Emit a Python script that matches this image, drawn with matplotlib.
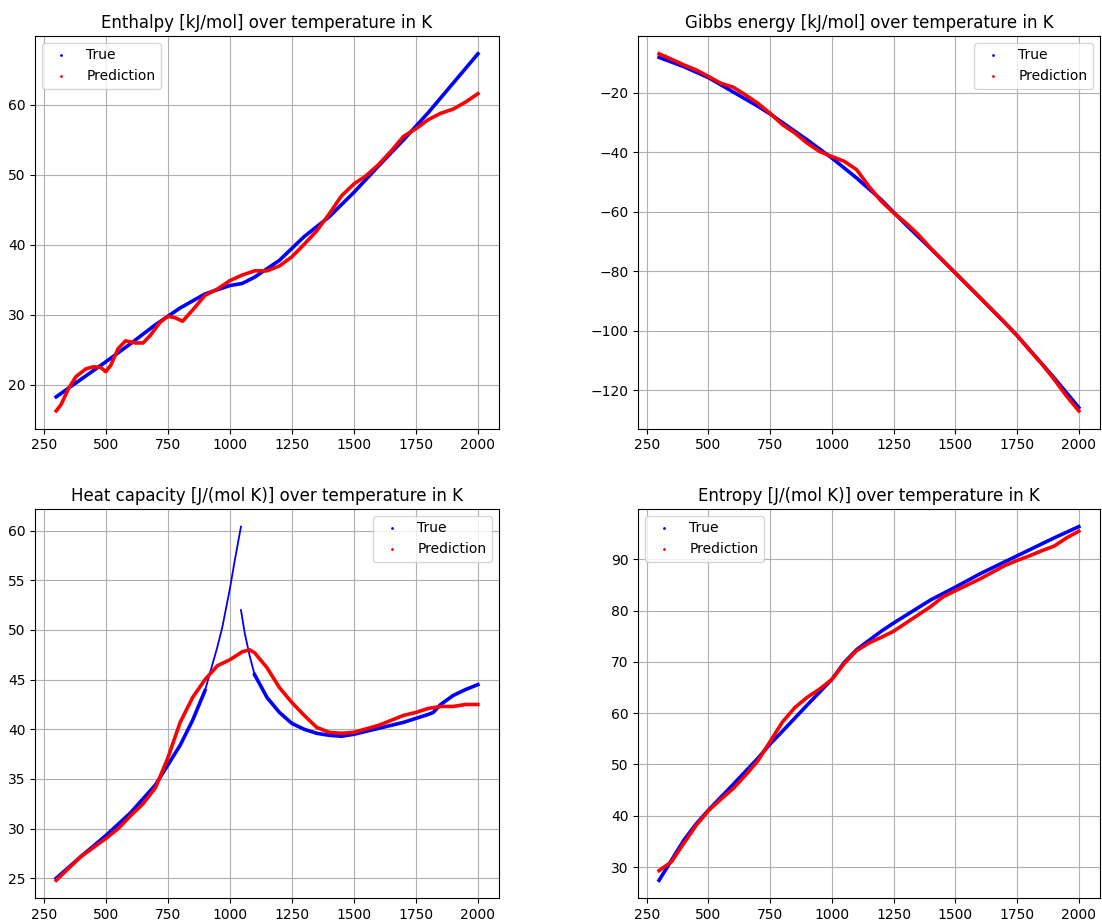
import numpy as np
import matplotlib
matplotlib.use("Agg")
import matplotlib.pyplot as plt
from matplotlib.lines import Line2D

# ── Enthalpy [kJ/mol] ────────────────────────────────────────────────────
h_true_T = [300, 400, 500, 600, 700, 800, 900, 1000, 1050, 1100, 1200, 1250,
            1300, 1400, 1500, 1600, 1700, 1800, 1900, 2000]
h_true = [18.3, 20.8, 23.3, 25.9, 28.6, 31.0, 33.0, 34.2, 34.5, 35.4, 37.8, 39.5,
          41.2, 44.0, 47.5, 51.3, 55.0, 58.9, 63.1, 67.3]
h_pred_T = [300, 320, 350, 380, 420, 450, 480, 500, 520, 550, 580, 620, 650, 680,
            720, 750, 780, 810, 850, 900, 950, 1000, 1050, 1100, 1150, 1200, 1250,
            1300, 1350, 1400, 1450, 1500, 1550, 1600, 1650, 1700, 1750, 1800, 1850,
            1900, 1950, 2000]
h_pred = [16.3, 17.2, 19.5, 21.2, 22.3, 22.6, 22.5, 21.9, 22.8, 25.2, 26.3, 26.0,
          26.0, 27.1, 29.0, 29.8, 29.6, 29.1, 30.7, 32.8, 33.7, 34.9, 35.7, 36.3,
          36.3, 37.0, 38.3, 40.1, 42.0, 44.4, 47.0, 48.7, 49.9, 51.5, 53.4, 55.5,
          56.6, 57.9, 58.8, 59.4, 60.4, 61.6]

# ── Gibbs energy [kJ/mol] ────────────────────────────────────────────────
g_true_T = [300, 400, 500, 600, 700, 750, 800, 900, 1000, 1100, 1200, 1250, 1300,
            1400, 1500, 1600, 1700, 1750, 1800, 1900, 2000]
g_true = [-8.2, -11.3, -15.0, -19.8, -24.6, -27.2, -30.1, -35.9, -42.0, -48.7,
          -56.0, -60.2, -64.4, -72.4, -80.6, -88.9, -97.3, -101.6, -106.3, -115.8,
          -125.8]
g_pred_T = [300, 350, 400, 450, 500, 550, 600, 650, 700, 750, 800, 850, 900, 950,
            1000, 1050, 1100, 1150, 1200, 1250, 1300, 1350, 1400, 1500, 1600, 1700,
            1750, 1800, 1850, 1900, 1950, 2000]
g_pred = [-7.0, -8.8, -10.7, -12.4, -14.6, -16.9, -18.2, -20.8, -23.6, -27.0,
          -30.8, -33.6, -37.0, -39.8, -41.5, -43.1, -45.9, -51.5, -56.5, -60.4,
          -63.8, -67.7, -72.3, -80.6, -88.9, -97.2, -101.6, -106.5, -111.1, -116.3,
          -121.9, -126.9]

# ── Heat capacity [J/(mol K)] ────────────────────────────────────────────
cp_true_lo_T = [300, 400, 500, 600, 700, 750, 800, 850, 900, 950, 970, 1000, 1020, 1045]
cp_true_lo = [25.0, 27.2, 29.3, 31.6, 34.4, 36.4, 38.4, 40.9, 43.9, 48.3, 50.3, 54.1,
              57.0, 60.4]
cp_true_hi_T = [1045, 1060, 1080, 1100, 1150, 1200, 1250, 1300, 1350, 1400, 1450,
                1500, 1600, 1700, 1750, 1800, 1820, 1850, 1900, 1950, 2000]
cp_true_hi = [52.0, 49.7, 47.4, 45.5, 43.2, 41.7, 40.6, 40.0, 39.6, 39.4, 39.3,
              39.5, 40.1, 40.7, 41.1, 41.5, 41.7, 42.5, 43.4, 44.0, 44.5]
cp_pred_T = [300, 400, 500, 550, 600, 650, 700, 750, 800, 850, 900, 950, 1000, 1050,
             1080, 1100, 1150, 1200, 1250, 1300, 1350, 1400, 1450, 1500, 1600, 1700,
             1750, 1800, 1850, 1900, 1950, 2000]
cp_pred = [24.8, 27.2, 29.0, 30.0, 31.3, 32.5, 34.1, 37.1, 40.7, 43.2, 45.0, 46.4,
           47.0, 47.8, 48.0, 47.7, 46.2, 44.2, 42.7, 41.4, 40.2, 39.7, 39.6, 39.7,
           40.4, 41.4, 41.7, 42.1, 42.3, 42.3, 42.5, 42.5]

# ── Entropy [J/(mol K)] ──────────────────────────────────────────────────
s_true_T = [300, 350, 400, 450, 500, 600, 700, 750, 800, 900, 1000, 1050, 1100,
            1200, 1250, 1300, 1400, 1500, 1600, 1750, 1900, 2000]
s_true = [27.4, 31.3, 35.2, 38.4, 41.1, 46.1, 51.2, 54.0, 56.5, 61.6, 66.6, 69.9,
          72.4, 76.0, 77.6, 79.1, 82.1, 84.6, 87.2, 90.7, 94.2, 96.4]
s_pred_T = [300, 350, 400, 450, 500, 550, 600, 650, 700, 750, 800, 850, 900, 950,
            1000, 1050, 1100, 1150, 1200, 1250, 1300, 1350, 1400, 1450, 1500, 1600,
            1700, 1750, 1800, 1850, 1900, 1950, 2000]
s_pred = [29.3, 31.0, 34.6, 38.1, 41.0, 43.2, 45.3, 47.9, 50.7, 54.5, 58.3, 61.1,
          63.1, 64.7, 66.6, 69.7, 72.2, 73.7, 74.8, 76.0, 77.6, 79.2, 80.8, 82.7,
          83.9, 86.2, 88.8, 89.8, 90.7, 91.7, 92.6, 94.2, 95.5]

titles = [
    "Enthalpy [kJ/mol] over temperature in K",
    "Gibbs energy [kJ/mol] over temperature in K",
    "Heat capacity [J/(mol K)] over temperature in K",
    "Entropy [J/(mol K)] over temperature in K",
]
legend_locs = ["upper left", "upper right", "upper right", "upper left"]

LW = 2.6


def legend_handles():
    return [
        Line2D([], [], color="blue", marker=".", markersize=2, linestyle="none", label="True"),
        Line2D([], [], color="red", marker=".", markersize=2, linestyle="none", label="Prediction"),
    ]


fig = plt.figure(figsize=(11.02, 9.22), dpi=100)
boxes = [
    (0.0318, 0.535, 0.421, 0.426),
    (0.579, 0.535, 0.419, 0.426),
    (0.0318, 0.026, 0.421, 0.422),
    (0.579, 0.026, 0.419, 0.422),
]
axes = [fig.add_axes(b) for b in boxes]

axes[0].plot(h_true_T, h_true, color="blue", lw=LW)
axes[0].plot(h_pred_T, h_pred, color="red", lw=LW)

axes[1].plot(g_true_T, g_true, color="blue", lw=LW)
axes[1].plot(g_pred_T, g_pred, color="red", lw=LW)

# the steep part of the true heat capacity is sparse in the original -> thinner
axes[2].plot(cp_true_lo_T[:9], cp_true_lo[:9], color="blue", lw=LW)
axes[2].plot(cp_true_lo_T[8:], cp_true_lo[8:], color="blue", lw=1.3)
axes[2].plot(cp_true_hi_T[:4], cp_true_hi[:4], color="blue", lw=1.3)
axes[2].plot(cp_true_hi_T[3:], cp_true_hi[3:], color="blue", lw=LW)
axes[2].plot(cp_pred_T, cp_pred, color="red", lw=LW)

axes[3].plot(s_true_T, s_true, color="blue", lw=LW)
axes[3].plot(s_pred_T, s_pred, color="red", lw=LW)

for ax, title, loc in zip(axes, titles, legend_locs):
    ax.set_title(title, fontsize=12)
    ax.grid(True, color="#b0b0b0", linewidth=0.8)
    ax.set_axisbelow(True)
    ax.set_xticks([250, 500, 750, 1000, 1250, 1500, 1750, 2000])
    ax.legend(handles=legend_handles(), loc=loc, fontsize=10)

plt.savefig("out.png", dpi=100)
